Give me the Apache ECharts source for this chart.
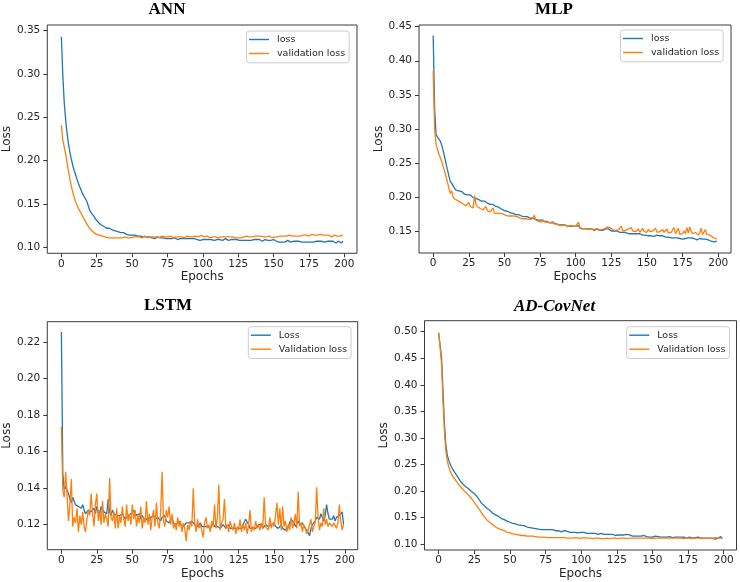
<!DOCTYPE html>
<html><head><meta charset="utf-8">
<script src="https://cdn.jsdelivr.net/npm/echarts@6/dist/echarts.min.js"></script>
<style>html,body{margin:0;padding:0;background:#fff}#c{width:740px;height:582px}</style>
</head><body><div id="c"></div>
<script>
// ---------- DATA ----------
const titles = ['ANN', 'MLP', 'LSTM', 'AD-CovNet'];
const legendNames = [['loss', 'validation loss'], ['loss', 'validation loss'], ['Loss', 'Validation loss'], ['Loss', 'Validation loss']];
const xTicks = [0, 25, 50, 75, 100, 125, 150, 175, 200];
const annYTicks = [0.10, 0.15, 0.20, 0.25, 0.30, 0.35];
const mlpYTicks = [0.15, 0.20, 0.25, 0.30, 0.35, 0.40, 0.45];
const lstmYTicks = [0.12, 0.14, 0.16, 0.18, 0.20, 0.22];
const adYTicks = [0.10, 0.15, 0.20, 0.25, 0.30, 0.35, 0.40, 0.45, 0.50];

const annLoss = [
0.343,0.300,0.268,0.248,0.232,0.220,0.210,0.202,0.195,0.189,
0.184,0.179,0.174,0.170,0.166,0.162,0.159,0.156,0.153,0.148,
0.143,0.140,0.141,0.136,0.133,0.131,0.129,0.127,0.126,0.125,
0.124,0.123,0.122,0.121,0.122,0.120,0.120,0.119,0.119,0.118,
0.118,0.117,0.117,0.116,0.117,0.116,0.115,0.115,0.114,0.115,
0.114,0.113,0.114,0.113,0.113,0.112,0.113,0.112,0.112,0.113,
0.112,0.111,0.112,0.111,0.111,0.112,0.110,0.111,0.112,0.111,
0.111,0.110,0.111,0.111,0.110,0.111,0.110,0.111,0.110,0.110,
0.111,0.110,0.109,0.110,0.110,0.111,0.110,0.109,0.110,0.111,
0.110,0.109,0.110,0.109,0.110,0.109,0.109,0.110,0.108,0.109,
0.109,0.108,0.109,0.110,0.109,0.108,0.109,0.109,0.108,0.110,
0.109,0.108,0.109,0.109,0.108,0.109,0.110,0.109,0.108,0.109,
0.109,0.108,0.109,0.108,0.109,0.110,0.108,0.109,0.108,0.109,
0.108,0.109,0.108,0.109,0.108,0.107,0.109,0.108,0.109,0.108,
0.109,0.108,0.107,0.108,0.109,0.108,0.108,0.107,0.108,0.108,
0.109,0.108,0.107,0.108,0.106,0.107,0.106,0.107,0.106,0.107,
0.108,0.107,0.106,0.107,0.107,0.108,0.107,0.106,0.107,0.107,
0.106,0.107,0.106,0.105,0.106,0.105,0.106,0.107,0.106,0.107,
0.107,0.108,0.107,0.106,0.107,0.107,0.106,0.107,0.107,0.106,
0.107,0.106,0.107,0.106,0.105,0.106,0.107,0.106,0.105,0.107];
const annVal = [
0.241,0.224,0.216,0.208,0.198,0.188,0.179,0.171,0.164,0.158,
0.153,0.149,0.145,0.142,0.139,0.136,0.133,0.130,0.127,0.124,
0.122,0.120,0.118,0.117,0.116,0.115,0.114,0.114,0.113,0.113,
0.112,0.112,0.112,0.111,0.112,0.111,0.111,0.111,0.110,0.111,
0.111,0.111,0.110,0.111,0.111,0.112,0.111,0.111,0.110,0.111,
0.111,0.112,0.111,0.112,0.111,0.112,0.112,0.111,0.112,0.113,
0.112,0.111,0.112,0.112,0.111,0.112,0.111,0.112,0.112,0.111,
0.112,0.113,0.112,0.112,0.111,0.112,0.112,0.113,0.112,0.111,
0.112,0.112,0.113,0.112,0.111,0.112,0.112,0.111,0.112,0.113,
0.112,0.112,0.111,0.112,0.112,0.113,0.112,0.112,0.113,0.114,
0.113,0.112,0.112,0.113,0.112,0.111,0.112,0.112,0.113,0.112,
0.112,0.111,0.112,0.112,0.113,0.112,0.111,0.112,0.111,0.112,
0.111,0.112,0.112,0.111,0.112,0.111,0.110,0.111,0.112,0.112,
0.112,0.113,0.112,0.112,0.113,0.112,0.113,0.113,0.112,0.113,
0.112,0.113,0.113,0.112,0.113,0.112,0.112,0.113,0.112,0.111,
0.110,0.112,0.113,0.112,0.113,0.113,0.112,0.113,0.114,0.113,
0.113,0.114,0.113,0.113,0.114,0.113,0.114,0.113,0.114,0.113,
0.113,0.114,0.113,0.114,0.114,0.113,0.114,0.115,0.114,0.114,
0.115,0.114,0.114,0.115,0.114,0.114,0.115,0.114,0.113,0.114,
0.113,0.112,0.113,0.114,0.114,0.113,0.114,0.113,0.114,0.114];
const mlpLoss = [
0.437,0.330,0.292,0.288,0.285,0.282,0.276,0.268,0.259,0.249,
0.240,0.231,0.223,0.220,0.218,0.213,0.210,0.208,0.209,0.210,
0.208,0.206,0.204,0.205,0.203,0.202,0.203,0.201,0.199,0.200,
0.198,0.197,0.196,0.195,0.194,0.193,0.194,0.192,0.191,0.190,
0.189,0.188,0.189,0.187,0.186,0.184,0.185,0.183,0.182,0.181,
0.180,0.181,0.179,0.178,0.177,0.178,0.176,0.175,0.174,0.175,
0.174,0.173,0.172,0.173,0.171,0.170,0.171,0.170,0.169,0.170,
0.169,0.168,0.167,0.168,0.166,0.165,0.166,0.164,0.164,0.163,
0.164,0.163,0.162,0.161,0.162,0.160,0.161,0.160,0.159,0.160,
0.159,0.158,0.159,0.158,0.157,0.158,0.157,0.156,0.157,0.156,
0.157,0.156,0.158,0.154,0.153,0.153,0.154,0.153,0.152,0.153,
0.152,0.153,0.152,0.151,0.152,0.153,0.152,0.151,0.152,0.151,
0.152,0.153,0.154,0.153,0.151,0.150,0.151,0.150,0.149,0.150,
0.149,0.148,0.149,0.148,0.147,0.148,0.147,0.146,0.147,0.146,
0.147,0.146,0.145,0.146,0.145,0.146,0.145,0.144,0.145,0.144,
0.145,0.143,0.144,0.143,0.144,0.142,0.143,0.144,0.142,0.143,
0.142,0.143,0.142,0.141,0.142,0.141,0.142,0.140,0.141,0.140,
0.139,0.140,0.141,0.139,0.140,0.138,0.140,0.139,0.141,0.140,
0.139,0.140,0.138,0.139,0.138,0.137,0.138,0.139,0.137,0.138,
0.137,0.138,0.136,0.137,0.136,0.135,0.136,0.134,0.133,0.135];
const mlpVal = [
0.385,0.300,0.278,0.270,0.263,0.258,0.252,0.245,0.238,0.230,
0.222,0.213,0.205,0.209,0.200,0.197,0.196,0.195,0.193,0.192,
0.191,0.190,0.188,0.187,0.186,0.192,0.186,0.185,0.184,0.202,
0.189,0.186,0.185,0.183,0.182,0.181,0.180,0.186,0.180,0.179,
0.178,0.177,0.184,0.176,0.177,0.176,0.175,0.176,0.174,0.175,
0.174,0.173,0.175,0.172,0.173,0.172,0.171,0.172,0.170,0.171,
0.170,0.169,0.170,0.168,0.169,0.168,0.169,0.167,0.168,0.167,
0.168,0.173,0.166,0.165,0.164,0.165,0.163,0.167,0.163,0.162,
0.163,0.161,0.162,0.160,0.164,0.160,0.159,0.160,0.162,0.158,
0.159,0.158,0.157,0.159,0.156,0.157,0.158,0.156,0.157,0.159,
0.157,0.158,0.163,0.155,0.154,0.153,0.155,0.154,0.153,0.152,
0.154,0.153,0.155,0.152,0.153,0.154,0.151,0.153,0.152,0.150,
0.153,0.155,0.156,0.154,0.155,0.153,0.152,0.154,0.151,0.153,
0.152,0.153,0.157,0.150,0.152,0.151,0.149,0.153,0.151,0.155,
0.150,0.152,0.149,0.151,0.153,0.148,0.150,0.154,0.149,0.151,
0.148,0.153,0.149,0.147,0.150,0.148,0.154,0.148,0.146,0.149,
0.147,0.152,0.148,0.146,0.153,0.147,0.146,0.148,0.147,0.155,
0.146,0.148,0.154,0.145,0.147,0.146,0.150,0.146,0.155,0.147,
0.156,0.149,0.146,0.145,0.148,0.146,0.144,0.147,0.154,0.145,
0.146,0.152,0.145,0.143,0.144,0.142,0.141,0.140,0.139,0.138];
const lstmLoss = [
0.2255,0.148,0.139,0.141,0.142,0.137,0.134,0.132,0.135,0.133,
0.131,0.132,0.130,0.131,0.129,0.131,0.128,0.126,0.127,0.128,
0.129,0.127,0.128,0.129,0.126,0.130,0.127,0.125,0.130,0.131,
0.127,0.128,0.126,0.134,0.127,0.125,0.128,0.126,0.127,0.125,
0.124,0.125,0.124,0.126,0.125,0.123,0.124,0.125,0.124,0.126,
0.127,0.128,0.129,0.125,0.124,0.126,0.123,0.125,0.124,0.122,
0.123,0.124,0.122,0.124,0.123,0.125,0.123,0.122,0.124,0.123,
0.122,0.124,0.123,0.125,0.122,0.123,0.121,0.122,0.124,0.121,
0.122,0.120,0.121,0.122,0.120,0.121,0.119,0.120,0.121,0.120,
0.121,0.120,0.122,0.121,0.120,0.121,0.119,0.120,0.121,0.119,
0.118,0.119,0.120,0.119,0.120,0.118,0.119,0.121,0.119,0.118,
0.119,0.120,0.118,0.119,0.120,0.119,0.118,0.119,0.120,0.118,
0.117,0.118,0.119,0.118,0.117,0.118,0.119,0.118,0.120,0.119,
0.123,0.122,0.120,0.118,0.119,0.118,0.117,0.118,0.119,0.120,
0.119,0.120,0.118,0.119,0.120,0.121,0.119,0.118,0.120,0.119,
0.121,0.119,0.120,0.118,0.119,0.120,0.118,0.119,0.117,0.118,
0.119,0.118,0.123,0.122,0.121,0.119,0.120,0.122,0.120,0.119,
0.121,0.119,0.118,0.117,0.116,0.114,0.118,0.120,0.121,0.122,
0.124,0.125,0.123,0.126,0.124,0.122,0.125,0.131,0.126,0.123,
0.124,0.123,0.125,0.122,0.124,0.123,0.125,0.124,0.127,0.120];
const lstmVal = [
0.1735,0.139,0.135,0.149,0.136,0.122,0.131,0.145,0.119,0.124,
0.121,0.129,0.116,0.125,0.120,0.127,0.119,0.116,0.123,0.128,
0.125,0.137,0.126,0.119,0.131,0.137,0.122,0.128,0.120,0.133,
0.121,0.126,0.123,0.119,0.1455,0.124,0.122,0.127,0.118,0.129,
0.118,0.125,0.121,0.130,0.123,0.119,0.131,0.122,0.126,0.120,
0.131,0.123,0.128,0.119,0.125,0.121,0.130,0.118,0.124,0.121,
0.133,0.120,0.126,0.117,0.124,0.128,0.119,0.132,0.121,0.118,
0.127,0.149,0.122,0.119,0.128,0.124,0.130,0.120,0.126,0.118,
0.121,0.117,0.124,0.119,0.122,0.116,0.121,0.118,0.111,0.120,
0.117,0.122,0.119,0.140,0.121,0.116,0.123,0.118,0.120,0.117,
0.113,0.121,0.124,0.118,0.120,0.116,0.122,0.119,0.131,0.118,
0.124,0.142,0.117,0.121,0.123,0.134,0.118,0.120,0.116,0.122,
0.119,0.117,0.121,0.115,0.119,0.117,0.123,0.116,0.120,0.117,
0.121,0.115,0.120,0.128,0.116,0.119,0.117,0.122,0.118,0.120,
0.117,0.121,0.118,0.135,0.119,0.120,0.117,0.124,0.118,0.121,
0.119,0.125,0.132,0.120,0.129,0.117,0.130,0.119,0.122,0.116,
0.120,0.117,0.124,0.118,0.121,0.126,0.118,0.138,0.119,0.121,
0.116,0.120,0.118,0.115,0.117,0.116,0.123,0.116,0.119,0.121,
0.1405,0.124,0.117,0.121,0.119,0.129,0.120,0.123,0.119,0.121,
0.120,0.119,0.121,0.120,0.118,0.121,0.131,0.122,0.117,0.120];
const adLoss = [
0.497,0.494,0.452,0.390,0.328,0.288,0.268,0.258,0.251,0.245,
0.240,0.236,0.232,0.228,0.224,0.219,0.216,0.213,0.210,0.208,
0.206,0.204,0.202,0.199,0.197,0.195,0.192,0.189,0.185,0.181,
0.177,0.175,0.172,0.170,0.167,0.165,0.163,0.160,0.158,0.156,
0.155,0.153,0.152,0.150,0.148,0.147,0.146,0.145,0.143,0.142,
0.141,0.140,0.139,0.139,0.138,0.137,0.136,0.136,0.135,0.134,
0.1345,0.133,0.132,0.133,0.131,0.131,0.130,0.130,0.129,0.129,
0.128,0.129,0.127,0.128,0.127,0.128,0.127,0.126,0.127,0.126,
0.127,0.126,0.125,0.124,0.125,0.124,0.123,0.124,0.125,0.123,
0.124,0.123,0.122,0.123,0.122,0.121,0.122,0.123,0.121,0.124,
0.122,0.121,0.122,0.121,0.120,0.121,0.120,0.119,0.120,0.121,
0.120,0.119,0.118,0.119,0.120,0.119,0.118,0.117,0.118,0.119,
0.118,0.117,0.118,0.117,0.116,0.118,0.117,0.116,0.117,0.118,
0.117,0.120,0.118,0.116,0.117,0.116,0.115,0.116,0.115,0.116,
0.115,0.114,0.115,0.114,0.116,0.115,0.114,0.115,0.113,0.114,
0.113,0.114,0.115,0.113,0.114,0.112,0.113,0.114,0.113,0.112,
0.113,0.112,0.114,0.113,0.112,0.114,0.113,0.112,0.113,0.112,
0.113,0.112,0.113,0.112,0.111,0.112,0.113,0.112,0.111,0.112,
0.112,0.111,0.113,0.112,0.111,0.110,0.111,0.110,0.111,0.112,
0.111,0.110,0.111,0.110,0.109,0.110,0.111,0.110,0.114,0.110];
const adVal = [
0.499,0.496,0.440,0.370,0.312,0.276,0.257,0.246,0.238,0.232,
0.227,0.224,0.220,0.216,0.212,0.209,0.206,0.203,0.200,0.197,
0.195,0.192,0.189,0.186,0.182,0.178,0.175,0.171,0.167,0.163,
0.159,0.155,0.151,0.148,0.145,0.143,0.140,0.138,0.136,0.134,
0.132,0.131,0.129,0.128,0.127,0.126,0.125,0.124,0.122,0.121,
0.121,0.120,0.119,0.119,0.118,0.118,0.117,0.117,0.116,0.116,
0.116,0.116,0.115,0.115,0.115,0.115,0.115,0.114,0.114,0.114,
0.113,0.114,0.113,0.113,0.113,0.113,0.112,0.113,0.112,0.112,
0.112,0.113,0.112,0.112,0.112,0.112,0.112,0.111,0.112,0.112,
0.111,0.112,0.111,0.112,0.111,0.111,0.112,0.111,0.111,0.112,
0.111,0.111,0.112,0.111,0.111,0.111,0.111,0.111,0.110,0.111,
0.111,0.110,0.111,0.111,0.110,0.111,0.110,0.110,0.111,0.111,
0.110,0.111,0.111,0.110,0.111,0.111,0.110,0.111,0.111,0.111,
0.111,0.111,0.110,0.111,0.111,0.111,0.111,0.110,0.111,0.111,
0.111,0.111,0.111,0.110,0.111,0.111,0.111,0.110,0.111,0.111,
0.110,0.111,0.111,0.111,0.111,0.110,0.111,0.111,0.111,0.111,
0.111,0.110,0.111,0.111,0.111,0.111,0.111,0.110,0.111,0.111,
0.111,0.111,0.110,0.111,0.111,0.111,0.111,0.111,0.110,0.111,
0.111,0.111,0.111,0.110,0.111,0.111,0.111,0.111,0.110,0.111,
0.111,0.111,0.110,0.111,0.112,0.111,0.111,0.112,0.111,0.111];

// ---------- LAYOUT / STYLE ----------
const BLUE = '#1f77b4', ORANGE = '#ff7f0e';
const AX = '#3a3a3a', TXT = '#262626';
const grids = [
  {left: 45.5, top: 25, width: 311.5, height: 228.3},
  {left: 419, top: 25, width: 312, height: 228},
  {left: 45.7, top: 321.7, width: 312, height: 228},
  {left: 424.5, top: 320.7, width: 312, height: 229.3}
];
const yRanges = [[0.0931, 0.3566], [0.1177, 0.4525], [0.1063, 0.2312], [0.0887, 0.5207]];
const yTickSets = [annYTicks, mlpYTicks, lstmYTicks, adYTicks];
const seriesData = [[annLoss, annVal], [mlpLoss, mlpVal], [lstmLoss, lstmVal], [adLoss, adVal]];
const titlePos = [[167, 9.5], [554, 9.5], [168, 306], [554.5, 307]];
const legendPos = [[246.5, 31], [620.5, 30], [248.3, 326.7], [626.7, 326.7]];
const yNameGap = [31, 34, 32, 33.5];

const tickFont = {fontFamily: 'DejaVu Sans', fontSize: 10.5, color: TXT};
const nameFont = {fontFamily: 'DejaVu Sans', fontSize: 12, color: TXT};

const option = {
  animation: false,
  backgroundColor: '#fff',
  grid: grids.map(g => Object.assign({show: true, borderColor: AX, borderWidth: 1, backgroundColor: 'transparent', containLabel: false}, g)),
  xAxis: grids.map((g, i) => ({
    type: 'value', gridIndex: i, min: -9.95, max: 208.95,
    name: 'Epochs', nameLocation: 'middle', nameGap: 18, nameTextStyle: nameFont,
    axisLine: {show: false, onZero: false},
    axisTick: {show: true, length: 4, customValues: xTicks, lineStyle: {color: AX}},
    axisLabel: Object.assign({customValues: xTicks, margin: 5, formatter: v => String(v)}, tickFont),
    splitLine: {show: false}
  })),
  yAxis: grids.map((g, i) => ({
    type: 'value', gridIndex: i, min: yRanges[i][0], max: yRanges[i][1],
    name: 'Loss', nameLocation: 'middle', nameGap: yNameGap[i], nameTextStyle: nameFont,
    axisLine: {show: false, onZero: false},
    axisTick: {show: true, length: 4, customValues: yTickSets[i], lineStyle: {color: AX}},
    axisLabel: Object.assign({customValues: yTickSets[i], margin: 7, formatter: v => v.toFixed(2)}, tickFont),
    splitLine: {show: false}
  })),
  legend: legendNames.map((names, i) => ({
    data: names, orient: 'vertical', left: legendPos[i][0], top: legendPos[i][1],
    icon: 'rect', itemWidth: 20, itemHeight: 1.4, itemGap: 4,
    textStyle: {fontFamily: 'DejaVu Sans', fontSize: 9.5, color: TXT, lineHeight: 10, padding: [0, 0, 0, 3]},
    borderColor: '#cccccc', borderWidth: 1, borderRadius: 3, padding: [3.5, 4, 4.3, 2.5],
    backgroundColor: '#fff', selectedMode: false
  })),
  graphic: titles.map((t, i) => ({
    type: 'text', x: titlePos[i][0], y: titlePos[i][1],
    style: {
      text: t, align: 'center', verticalAlign: 'middle', fill: '#000',
      font: (i === 3 ? 'italic ' : '') + 'bold 17px "Liberation Serif"'
    }
  })),
  series: []
};
seriesData.forEach((pair, i) => {
  pair.forEach((vals, k) => {
    option.series.push({
      type: 'line', name: legendNames[i][k], xAxisIndex: i, yAxisIndex: i,
      data: vals.map((v, e) => [e, v]), symbol: 'none', showSymbol: false,
      lineStyle: {width: 1.3, color: k === 0 ? BLUE : ORANGE}, itemStyle: {color: k === 0 ? BLUE : ORANGE},
      z: k === 0 ? 2 : 3
    });
  });
});
const chart = echarts.init(document.getElementById('c'), null, {renderer: 'canvas'});
chart.setOption(option);
</script></body></html>
